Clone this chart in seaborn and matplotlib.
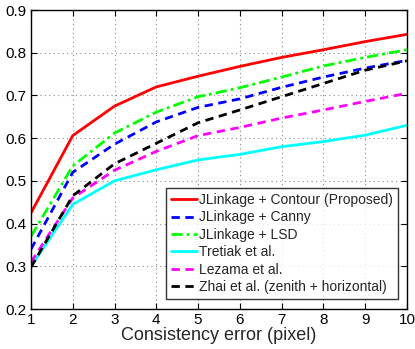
import numpy as np
import pandas as pd
import matplotlib
matplotlib.use("Agg")
import matplotlib.pyplot as plt
import seaborn as sns

x_vals = [1, 2, 3, 4, 5, 6, 7, 8, 9, 10]
contour = [0.425, 0.606, 0.675, 0.720, 0.745, 0.768, 0.789, 0.807, 0.826, 0.843]
canny = [0.340, 0.520, 0.586, 0.638, 0.672, 0.692, 0.719, 0.743, 0.764, 0.782]
lsd = [0.370, 0.535, 0.612, 0.661, 0.697, 0.718, 0.743, 0.769, 0.789, 0.807]
tretiak = [0.300, 0.445, 0.500, 0.526, 0.549, 0.562, 0.580, 0.592, 0.607, 0.630]
lezama = [0.310, 0.460, 0.525, 0.569, 0.606, 0.625, 0.647, 0.666, 0.686, 0.705]
zhai = [0.298, 0.465, 0.540, 0.588, 0.636, 0.666, 0.697, 0.728, 0.759, 0.781]

names = ["JLinkage + Contour (Proposed)", "JLinkage + Canny", "JLinkage + LSD",
         "Tretiak et al.", "Lezama et al.", "Zhai et al. (zenith + horizontal)"]
series = [contour, canny, lsd, tretiak, lezama, zhai]
colors = ["#ff0000", "#0000ff", "#00ff00", "#00ffff", "#ff00ff", "#000000"]
dashes = [(None, None), (3, 2), (4, 1.5, 1, 1.5), (None, None), (3, 2), (3, 2)]

df = pd.DataFrame({
    "x": np.tile(x_vals, len(series)),
    "y": np.concatenate(series),
    "method": np.repeat(names, len(x_vals)),
})

sns.set_theme(style="white")
plt.rcParams['font.family'] = ['Liberation Sans', 'DejaVu Sans']

fig = plt.figure(figsize=(4.15, 3.49), dpi=100)
ax = fig.add_axes([0.0747, 0.1146, 0.9058, 0.8567])

for name, c, d in zip(names, colors, dashes):
    sub = df[df["method"] == name]
    sns.lineplot(data=sub, x="x", y="y", ax=ax, color=c, linewidth=2.0,
                 label=name)
    ln = ax.get_lines()[-1]
    if d[0] is not None:
        ln.set_dashes(d)

ax.set_xlim(1, 10)
ax.set_ylim(0.2, 0.9)
ax.set_xticks(x_vals)
ax.set_yticks([0.2, 0.3, 0.4, 0.5, 0.6, 0.7, 0.8, 0.9])
ax.set_yticklabels(["0.2", "0.3", "0.4", "0.5", "0.6", "0.7", "0.8", "0.9"])
ax.grid(True, linestyle=(0, (1, 3)), color="#888888", linewidth=0.8)
ax.tick_params(direction="in", length=4, width=0.8, labelsize=11, colors="black",
               top=True, right=True, bottom=True, left=True, pad=3)
for s in ax.spines.values():
    s.set_visible(True)
    s.set_color("black")
    s.set_linewidth(1.0)
ax.set_xlabel("Consistency error (pixel)", fontsize=13, labelpad=0)
ax.set_ylabel("")

leg = ax.legend(loc="lower right", bbox_to_anchor=(0.976, 0.033), fontsize=10,
                frameon=True, fancybox=False, edgecolor="black",
                handlelength=1.9, handletextpad=0.15, borderpad=0.35,
                labelspacing=0.25, borderaxespad=0)
leg.get_frame().set_linewidth(1.0)

fig.savefig("out.png", dpi=100)
